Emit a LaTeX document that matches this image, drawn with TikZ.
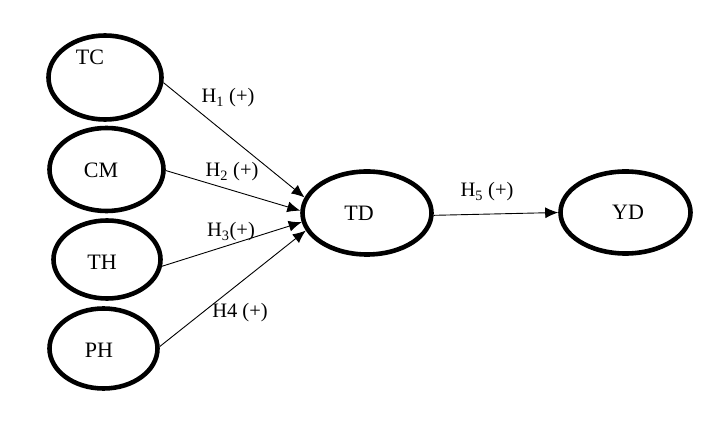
\documentclass[tikz,border=0pt]{standalone}
\usepackage{fontspec}
\setmainfont{Liberation Serif}
\usetikzlibrary{shapes.geometric,arrows.meta}
\begin{document}
\begin{tikzpicture}[x=1pt,y=-1pt,
  var/.style={draw=black,line width=4.6pt,ellipse,inner sep=0pt,outer sep=2.3pt},
  vtext/.style={inner sep=0pt,font=\fontsize{22}{25}\selectfont},
  hlab/.style={inner sep=0pt,font=\fontsize{20.5}{23}\selectfont},
  link/.style={draw=black,line width=0.9pt,-{Latex[length=13pt,width=11pt]}}]
\useasboundingbox (0,0) rectangle (728,427);
\node[var,minimum width=113pt,minimum height=84pt] (TC) at (105,77.5) {};
\node[var,minimum width=114pt,minimum height=83pt] (CM) at (106.5,169.5) {};
\node[var,minimum width=107pt,minimum height=78pt] (TH) at (107,259.5) {};
\node[var,minimum width=108pt,minimum height=80pt] (PH) at (103.5,348.5) {};
\node[var,minimum width=129pt,minimum height=83pt] (TD) at (367,213) {};
\node[var,minimum width=130pt,minimum height=82pt] (YD) at (625.5,212.5) {};
\node[vtext] (tTC) at (90,57) {TC};
\node[vtext] (tCM) at (101,170) {CM};
\node[vtext] (tTH) at (102,262) {TH};
\node[vtext] (tPH) at (99,350) {PH};
\node[vtext] (tTD) at (359,213) {TD};
\node[vtext] (tYD) at (628,212) {YD};
\draw[link] (TC.-5) -- (TD.166);
\draw[link] (CM.-1) -- (TD.178);
\draw[link] (TH.-7) -- (TD.188);
\draw[link] (PH.2) -- (TD.196);
\draw[link] (TD.-2.5) -- (YD.180);
\node[hlab] (h1) at (228,98) {H\textsubscript{1} (+)};
\node[hlab] (h2) at (232,172) {H\textsubscript{2} (+)};
\node[hlab] (h3) at (231,232) {H\textsubscript{3}(+)};
\node[hlab] (h4) at (240,313) {H4 (+)};
\node[hlab] (h5) at (487,192) {H\textsubscript{5} (+)};
\end{tikzpicture}
\end{document}
